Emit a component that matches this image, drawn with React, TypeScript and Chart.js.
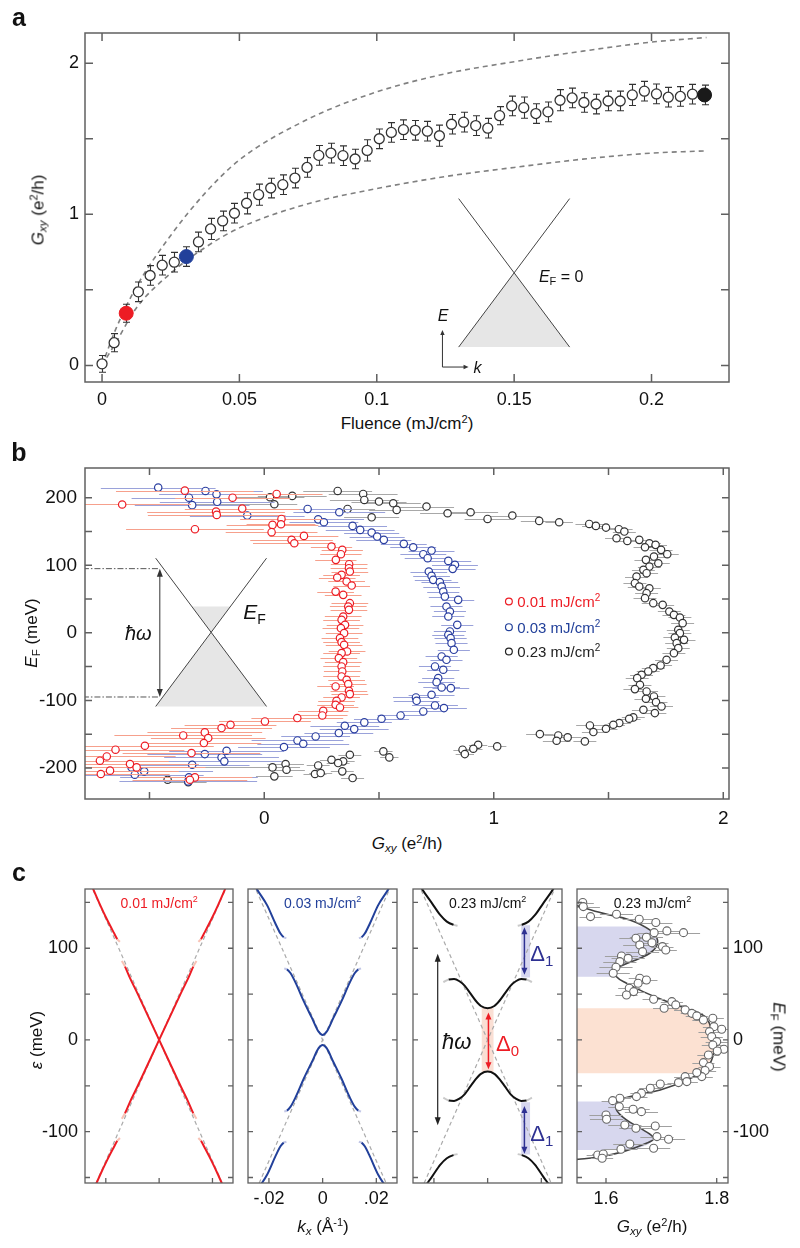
import React, { useEffect, useRef } from 'react';
import { Chart, registerables } from 'chart.js';

Chart.register(...registerables);

const FONT = '"Liberation Sans", Arial, Helvetica, sans-serif';
Chart.defaults.font.family = FONT;

const RED = '#ed1c24';
const BLUE = '#22409a';
const DARK = '#1a1a1a';
const BLUE_ANN = '#2e3192';

// ---------------- Panel a data ----------------
const FLUENCE = [0, 0.0044, 0.0088, 0.0132, 0.0175, 0.0219, 0.0263, 0.0307, 0.0351, 0.0395, 0.0439, 0.0482, 0.0526, 0.057, 0.0614, 0.0658, 0.0702, 0.0746, 0.0789, 0.0833, 0.0877, 0.0921, 0.0965, 0.1009, 0.1053, 0.1097, 0.114, 0.1184, 0.1228, 0.1272, 0.1316, 0.136, 0.1404, 0.1447, 0.1491, 0.1535, 0.1579, 0.1623, 0.1667, 0.1711, 0.1754, 0.1798, 0.1842, 0.1886, 0.193, 0.1974, 0.2018, 0.2061, 0.2105, 0.2149, 0.2193];
const GXY = [0.01, 0.15, 0.345, 0.487, 0.595, 0.663, 0.683, 0.72, 0.817, 0.903, 0.956, 1.007, 1.073, 1.13, 1.174, 1.196, 1.24, 1.31, 1.39, 1.405, 1.388, 1.366, 1.423, 1.5, 1.542, 1.56, 1.556, 1.55, 1.52, 1.596, 1.61, 1.587, 1.57, 1.653, 1.717, 1.706, 1.667, 1.678, 1.755, 1.77, 1.74, 1.73, 1.75, 1.75, 1.79, 1.815, 1.797, 1.775, 1.78, 1.795, 1.79];
const GXY_ERR = [0.055, 0.06, 0.06, 0.065, 0.065, 0.065, 0.065, 0.065, 0.065, 0.07, 0.065, 0.065, 0.07, 0.07, 0.065, 0.065, 0.065, 0.065, 0.065, 0.065, 0.065, 0.065, 0.07, 0.065, 0.065, 0.065, 0.065, 0.065, 0.07, 0.065, 0.065, 0.065, 0.065, 0.06, 0.065, 0.07, 0.065, 0.065, 0.07, 0.065, 0.065, 0.065, 0.065, 0.065, 0.07, 0.065, 0.065, 0.065, 0.065, 0.065, 0.065];
const HIGHLIGHT_IDX = [2, 7, 50];
const HIGHLIGHT_COLOR = [RED, BLUE, DARK];
const UPPER_BOUND = [[0, 0], [0.005, 0.24], [0.0125, 0.52], [0.025, 0.86], [0.0375, 1.14], [0.05, 1.36], [0.075, 1.63], [0.1, 1.81], [0.125, 1.93], [0.15, 2.01], [0.175, 2.08], [0.2, 2.14], [0.22, 2.17]];
const LOWER_BOUND = [[0, 0], [0.005, 0.15], [0.0125, 0.38], [0.025, 0.61], [0.0375, 0.78], [0.05, 0.91], [0.075, 1.07], [0.1, 1.17], [0.125, 1.25], [0.15, 1.31], [0.175, 1.365], [0.2, 1.405], [0.22, 1.42]];
const A_CONE_1 = [[0.1298, 1.104], [0.1702, 0.121]];
const A_CONE_2 = [[0.1702, 1.104], [0.1298, 0.121]];
const A_CONE_FILL = [[0.15, 0.6125], [0.1702, 0.121], [0.1298, 0.121], [0.15, 0.6125]];
const A_X_TICKS = [0, 0.05, 0.1, 0.15, 0.2];
const A_Y_TICKS = [0, 0.5, 1, 1.5, 2];
const A_Y_LABELS = [0, 1, 2];

// ---------------- Panel b data: [G, E, err(left), err(right)?] ----------------
const RED_B = [
  [-0.346, 210.5, 0.3], [-0.619, 190, 0.3], [-0.138, 200, 0.25], [0.054, 205.6, 0.2], [-0.096, 184, 0.25],
  [-0.21, 179.5, 0.3], [-0.207, 174.6, 0.3], [0.075, 168.6, 0.18], [0.036, 159.8, 0.2], [0.073, 160.7, 0.15],
  [-0.302, 153.4, 0.3], [0.032, 149, 0.2], [0.119, 137.6, 0.18], [0.131, 132.6, 0.18], [0.173, 143.5, 0.15],
  [0.293, 127.7, 0.09], [0.34, 122.8, 0.09], [0.334, 116.4, 0.09], [0.312, 108, 0.09], [0.37, 101.6, 0.08],
  [0.369, 95.7, 0.08], [0.373, 90.7, 0.08], [0.337, 85.8, 0.08], [0.318, 81.9, 0.08], [0.359, 76, 0.08],
  [0.381, 70, 0.08], [0.311, 61, 0.08], [0.344, 56.2, 0.08], [0.373, 43.9, 0.08], [0.366, 39, 0.08],
  [0.369, 34, 0.08], [0.344, 24.2, 0.08], [0.337, 19.2, 0.08], [0.352, 11.8, 0.08], [0.334, 6.9, 0.08],
  [0.348, -0.5, 0.08], [0.33, -7.9, 0.08], [0.337, -13.8, 0.08], [0.348, -17.8, 0.08], [0.361, -27.6, 0.08],
  [0.337, -30, 0.08], [0.325, -37.5, 0.08], [0.344, -43.4, 0.08], [0.337, -49.8, 0.08], [0.34, -57.2, 0.08],
  [0.337, -64.6, 0.08], [0.359, -69.5, 0.08], [0.366, -75.9, 0.08], [0.311, -79.4, 0.08], [0.369, -85.8, 0.08],
  [0.373, -90.7, 0.08], [0.337, -95.7, 0.08], [0.315, -100.6, 0.08], [0.311, -106.5, 0.08], [0.33, -110.5, 0.08],
  [0.257, -115.4, 0.11], [0.253, -122.3, 0.11], [0.144, -126.2, 0.2], [0.003, -131.2, 0.2], [-0.147, -136.1, 0.2],
  [-0.186, -141, 0.22], [-0.259, -147.4, 0.25], [-0.353, -151.9, 0.3], [-0.244, -155.8, 0.25], [-0.263, -163.2, 0.25],
  [-0.52, -167.2, 0.3], [-0.648, -173, 0.3], [-0.317, -178, 0.3], [-0.686, -183, 0.3], [-0.716, -189.3, 0.3],
  [-0.585, -194.3, 0.3], [-0.556, -199.2, 0.3], [-0.672, -204, 0.3], [-0.712, -209, 0.3], [-0.302, -214, 0.25],
  [-0.324, -217.5, 0.25],
];
const BLUE_B = [
  [-0.462, 215, 0.25], [-0.256, 210, 0.25], [-0.208, 205, 0.25], [-0.328, 200, 0.25], [-0.205, 194, 0.25],
  [-0.314, 189, 0.25], [-0.074, 173.6, 0.25], [0.189, 183.4, 0.2], [0.327, 178.5, 0.2], [0.235, 168, 0.2],
  [0.26, 163.7, 0.15], [0.385, 158.3, 0.15], [0.418, 152.4, 0.15], [0.468, 148.4, 0.12], [0.492, 142.5, 0.12],
  [0.521, 137.6, 0.12], [0.608, 131.7, 0.1], [0.649, 126.7, 0.1], [0.693, 116.4, 0.1], [0.712, 110.5, 0.1],
  [0.729, 121.8, 0.1], [0.802, 106.5, 0.1], [0.831, 100.6, 0.1], [0.821, 94.7, 0.1], [0.717, 90.7, 0.08],
  [0.729, 84.3, 0.08], [0.736, 78.4, 0.08], [0.765, 75, 0.08], [0.773, 68.5, 0.08], [0.78, 61.1, 0.07],
  [0.787, 53.7, 0.07], [0.845, 48.8, 0.07], [0.794, 39, 0.07], [0.809, 31.6, 0.07], [0.802, 24.2, 0.07],
  [0.841, 11.8, 0.07], [0.809, 2, 0.07], [0.802, -3, 0.07], [0.812, -7.9, 0.07], [0.816, -15.3, 0.07],
  [0.826, -25.1, 0.07], [0.773, -35, 0.07], [0.794, -39.9, 0.07], [0.744, -49.8, 0.07], [0.78, -54.7, 0.07],
  [0.758, -67.1, 0.07], [0.751, -73, 0.08], [0.773, -80.9, 0.08], [0.813, -81.9, 0.08], [0.729, -91.7, 0.1],
  [0.661, -95.7, 0.1], [0.664, -100.6, 0.1], [0.744, -107.5, 0.1], [0.783, -111.4, 0.1], [0.693, -116.4, 0.1],
  [0.594, -122.3, 0.1], [0.511, -127.2, 0.12], [0.436, -132.6, 0.12], [0.351, -137.6, 0.15], [0.392, -142.5, 0.15],
  [0.325, -148.4, 0.15], [0.224, -153.4, 0.15], [0.145, -159.3, 0.2], [0.17, -164.2, 0.2], [0.086, -169.1, 0.2],
  [-0.164, -174.6, 0.25], [-0.259, -179.5, 0.25], [-0.186, -184.4, 0.25], [-0.174, -190.3, 0.25], [-0.314, -195.3, 0.25],
  [-0.578, -199.2, 0.3], [-0.523, -205.1, 0.3], [-0.564, -210, 0.3], [-0.328, -214, 0.3], [-0.331, -220, 0.3],
];
const BLACK_B = [
  [0.025, 200.7, 0.15], [0.122, 202.7, 0.15], [0.044, 190.3, 0.85, 0.1], [0.32, 210, 0.15], [0.431, 205.6, 0.15],
  [0.436, 196.7, 0.15], [0.5, 194.3, 0.12], [0.562, 191.8, 0.12], [0.577, 182, 0.12], [0.363, 183.4, 0.12],
  [0.468, 171, 0.12], [0.707, 186.9, 0.12], [0.799, 177, 0.12], [0.899, 178.5, 0.12], [0.973, 168.6, 0.1],
  [1.081, 173.6, 0.12], [1.198, 165.7, 0.08], [1.285, 163.7, 0.06], [1.416, 161.2, 0.06], [1.445, 158.3, 0.06],
  [1.489, 155.8, 0.06], [1.545, 153.4, 0.06], [1.569, 149.9, 0.05], [1.535, 140, 0.05], [1.582, 136.1, 0.05],
  [1.634, 137.6, 0.05], [1.678, 132.6, 0.05], [1.659, 126.7, 0.05], [1.705, 130.2, 0.05], [1.729, 122.8, 0.05],
  [1.756, 116.4, 0.05], [1.698, 112.9, 0.05], [1.663, 108, 0.05], [1.717, 103, 0.05], [1.678, 98.1, 0.05],
  [1.652, 93.2, 0.05], [1.666, 88.3, 0.05], [1.622, 83.3, 0.05], [1.615, 73.5, 0.05], [1.634, 68.5, 0.05],
  [1.678, 66, 0.05], [1.666, 58.7, 0.05], [1.659, 51.3, 0.05], [1.695, 43.9, 0.05], [1.736, 41.4, 0.05],
  [1.765, 31.6, 0.05], [1.785, 26.6, 0.05], [1.811, 22.7, 0.05], [1.823, 14.3, 0.05], [1.804, 4.4, 0.05],
  [1.811, -0.5, 0.05], [1.789, -6.9, 0.05], [1.829, -10.4, 0.05], [1.797, -15.3, 0.05], [1.804, -22.7, 0.05],
  [1.785, -30.1, 0.05], [1.753, -39.9, 0.05], [1.727, -48.3, 0.05], [1.695, -52.3, 0.05], [1.673, -57.2, 0.05],
  [1.644, -62.1, 0.05], [1.625, -67.1, 0.05], [1.637, -76.9, 0.05], [1.615, -83.3, 0.05], [1.666, -86.8, 0.05],
  [1.698, -94.2, 0.05], [1.663, -97.6, 0.05], [1.707, -102.6, 0.05], [1.731, -109, 0.05], [1.652, -113.9, 0.05],
  [1.702, -118.8, 0.05], [1.608, -125.2, 0.05], [1.59, -127.2, 0.05], [1.547, -133.6, 0.05], [1.521, -136.1, 0.05],
  [1.419, -137.1, 0.06], [1.489, -142, 0.05], [1.434, -146.9, 0.05], [1.201, -149.9, 0.06], [1.281, -151.9, 0.06],
  [1.322, -154.8, 0.06], [1.274, -159.8, 0.06], [1.397, -160.7, 0.05], [0.932, -165.7, 0.04], [1.015, -168.1, 0.04],
  [0.911, -171.6, 0.04], [0.864, -173, 0.04], [0.874, -179.5, 0.04], [0.519, -175.5, 0.04], [0.545, -184.4, 0.04],
  [0.373, -180.5, 0.05], [0.293, -187.9, 0.05], [0.344, -190.3, 0.05], [0.322, -192.8, 0.05], [0.34, -205.1, 0.05],
  [0.385, -215, 0.05], [0.235, -196.3, 0.05], [0.221, -209, 0.05], [0.246, -207.6, 0.05], [0.093, -194.3, 0.08],
  [0.097, -202.7, 0.08], [0.036, -199.2, 0.85, 0.12], [0.044, -212.5, 0.08], [-0.421, -217.5, 0.08], [-0.331, -221, 0.08],
];
const B_CONE_1 = [[-0.473, 110.5], [0.01, -109]];
const B_CONE_2 = [[0.01, 110.5], [-0.473, -109]];
const B_CONE_FILL = [[-0.3157, 39], [-0.1473, 39], [-0.2315, 0.75], [0.01, -109], [-0.473, -109], [-0.2315, 0.75], [-0.3157, 39]];
const B_HW_TOP = [[-0.79, 95], [-0.459, 95]];
const B_HW_BOT = [[-0.79, -95], [-0.459, -95]];
const B_X_TICKS = [-0.5, 0, 0.5, 1, 1.5, 2];
const B_X_LABELS = [0, 1, 2];
const B_Y_TICKS = [-200, -150, -100, -50, 0, 50, 100, 150, 200];
const B_Y_LABELS = [-200, -100, 0, 100, 200];
const LEGEND_LABELS = ['0.01 mJ/cm', '0.03 mJ/cm', '0.23 mJ/cm'];
const LEGEND_E = [46.4, 8.4, -27.6];

// ---------------- Panel c data: [k, E, tipFade?] ----------------
const CONE_A = [[-0.03, -198], [0.03, 198]];
const CONE_B = [[-0.03, 198], [0.03, -198]];
const S1_UP_OUT = [[-0.03, 200], [-0.0248, 165], [-0.0221, 147], [-0.0195, 131], [-0.017, 117], [-0.0157, 110], [-0.0147, 107, 1], null, [0.0147, 107, 1], [0.0157, 110], [0.017, 117], [0.0195, 131], [0.0221, 147], [0.0248, 165], [0.03, 200]];
const S1_X_1 = [[-0.014, 86, 1], [-0.0128, 80], [-0.011, 68], [-0.008, 50], [0, 0], [0.008, -50], [0.011, -68], [0.0128, -80], [0.014, -86, 1]];
const S1_X_2 = [[-0.014, -86, 1], [-0.0128, -80], [-0.011, -68], [-0.008, -50], [0, 0], [0.008, 50], [0.011, 68], [0.0128, 80], [0.014, 86, 1]];
const S1_LO_OUT = [[-0.03, -200], [-0.0248, -165], [-0.0221, -147], [-0.0195, -131], [-0.017, -117], [-0.0157, -110], [-0.0147, -107, 1], null, [0.0147, -107, 1], [0.0157, -110], [0.017, -117], [0.0195, -131], [0.0221, -147], [0.0248, -165], [0.03, -200]];
const S2_UP_OUT = [[-0.03, 195], [-0.0246, 165], [-0.0207, 147], [-0.0176, 127], [-0.0157, 116], [-0.0145, 112], [-0.0135, 111, 1], null, [0.0135, 111, 1], [0.0145, 112], [0.0157, 116], [0.0176, 127], [0.0207, 147], [0.0246, 165], [0.03, 195]];
const S2_UP_IN = [[-0.0143, 78, 1], [-0.0133, 77], [-0.012, 73], [-0.01, 62], [-0.007, 42], [-0.004, 24], [-0.0015, 9], [0, 5.5], [0.0015, 9], [0.004, 24], [0.007, 42], [0.01, 62], [0.012, 73], [0.0133, 77], [0.0143, 78, 1]];
const S2_LO_IN = [[-0.0143, -78, 1], [-0.0133, -77], [-0.012, -73], [-0.01, -62], [-0.007, -42], [-0.004, -24], [-0.0015, -9], [0, -5.5], [0.0015, -9], [0.004, -24], [0.007, -42], [0.01, -62], [0.012, -73], [0.0133, -77], [0.0143, -78, 1]];
const S2_LO_OUT = [[-0.03, -195], [-0.0246, -165], [-0.0207, -147], [-0.0176, -127], [-0.0157, -116], [-0.0145, -112], [-0.0135, -111, 1], null, [0.0135, -111, 1], [0.0145, -112], [0.0157, -116], [0.0176, -127], [0.0207, -147], [0.0246, -165], [0.03, -195]];
const S3_TOP = [[-0.03, 195], [-0.0245, 165], [-0.0207, 149], [-0.0176, 136], [-0.0152, 129], [-0.0127, 125.5], [-0.0112, 124.5, 1], null, [0.0112, 124.5, 1], [0.0127, 125.5], [0.0152, 129], [0.0176, 136], [0.0207, 149], [0.0245, 165], [0.03, 195]];
const S3_MID_UP = [[-0.0165, 63, 1], [-0.0145, 66], [-0.0125, 66.5], [-0.0105, 64], [-0.0085, 59], [-0.0065, 51], [-0.0045, 43], [-0.0025, 37], [0, 34.5], [0.0025, 37], [0.0045, 43], [0.0065, 51], [0.0085, 59], [0.0105, 64], [0.0125, 66.5], [0.0145, 66], [0.0165, 63, 1]];
const S3_MID_LO = [[-0.0165, -63, 1], [-0.0145, -66], [-0.0125, -66.5], [-0.0105, -64], [-0.0085, -59], [-0.0065, -51], [-0.0045, -43], [-0.0025, -37], [0, -34.5], [0.0025, -37], [0.0045, -43], [0.0065, -51], [0.0085, -59], [0.0105, -64], [0.0125, -66.5], [0.0145, -66], [0.0165, -63, 1]];
const S3_BOT = [[-0.03, -195], [-0.0245, -165], [-0.0207, -149], [-0.0176, -136], [-0.0152, -129], [-0.0127, -125.5], [-0.0112, -124.5, 1], null, [0.0112, -124.5, 1], [0.0127, -125.5], [0.0152, -129], [0.0176, -136], [0.0207, -149], [0.0245, -165], [0.03, -195]];
const S3_GLOW_D1_UP = [[0.0125, 68], [0.0158, 68], [0.0158, 125], [0.0125, 125], [0.0125, 68]];
const S3_GLOW_D1_LO = [[0.0125, -125], [0.0158, -125], [0.0158, -68], [0.0125, -68], [0.0125, -125]];
const S3_GLOW_D0 = [[-0.0022, -35], [0.0022, -35], [0.0022, 35], [-0.0022, 35], [-0.0022, -35]];
const S4_PTS = [
  [1.558, 149.8, 0.02], [1.559, 145.4, 0.03], [1.572, 134.5, 0.02], [1.619, 137, 0.03], [1.66, 131.6, 0.03],
  [1.69, 128, 0.03], [1.71, 118.9, 0.03], [1.74, 117, 0.03], [1.687, 117, 0.03], [1.673, 112, 0.03],
  [1.654, 110.9, 0.03], [1.683, 106, 0.03], [1.661, 103.6, 0.03], [1.702, 101.8, 0.02], [1.708, 98.1, 0.02],
  [1.666, 96.3, 0.03], [1.628, 91.6, 0.03], [1.64, 89, 0.03], [1.625, 85.4, 0.03], [1.618, 79.2, 0.03],
  [1.613, 72.7, 0.03], [1.661, 67.2, 0.02], [1.673, 65.4, 0.02], [1.658, 61.8, 0.02], [1.642, 56.3, 0.02],
  [1.65, 52.7, 0.02], [1.637, 49, 0.02], [1.686, 44.3, 0.02], [1.705, 34.5, 0.02], [1.719, 41.8, 0.02],
  [1.726, 38.2, 0.02], [1.743, 32.7, 0.02], [1.755, 29, 0.02], [1.764, 26.2, 0.02], [1.776, 21.8, 0.02],
  [1.793, 23.6, 0.02], [1.795, 14.5, 0.02], [1.809, 11.6, 0.02], [1.787, 9.1, 0.02], [1.791, 3.6, 0.02],
  [1.8, -1.8, 0.02], [1.793, -5.5, 0.02], [1.813, -10.2, 0.02], [1.801, -12, 0.02], [1.785, -16.4, 0.02],
  [1.776, -24.7, 0.02], [1.787, -29, 0.02], [1.779, -33.4, 0.02], [1.773, -40, 0.02], [1.764, -35.6, 0.02],
  [1.743, -40, 0.02], [1.746, -45.4, 0.02], [1.731, -46.5, 0.02], [1.698, -48, 0.02], [1.68, -52.7, 0.02],
  [1.664, -58.2, 0.02], [1.655, -61.8, 0.02], [1.625, -63.6, 0.02], [1.612, -66.2, 0.02], [1.624, -72.7, 0.02],
  [1.649, -75.6, 0.03], [1.664, -78.2, 0.03], [1.6, -81.8, 0.03], [1.601, -86.5, 0.03], [1.634, -92.7, 0.03],
  [1.689, -93.8, 0.03], [1.654, -96.3, 0.03], [1.692, -105.4, 0.03], [1.713, -108.3, 0.03], [1.643, -113.4, 0.03],
  [1.686, -118.1, 0.03], [1.627, -119.2, 0.03], [1.585, -125.4, 0.02], [1.595, -124.3, 0.02], [1.593, -129, 0.02],
];
const S4_FIT = [[1.54, 148], [1.553, 145.4], [1.595, 138], [1.643, 130.9], [1.679, 120], [1.693, 109], [1.686, 98], [1.661, 89], [1.631, 81.8], [1.616, 76.3], [1.619, 69], [1.637, 61.8], [1.667, 52.7], [1.71, 41.8], [1.752, 32.7], [1.779, 25.4], [1.791, 10.9], [1.795, 0], [1.793, -18.2], [1.779, -32.7], [1.746, -43.6], [1.698, -54.5], [1.649, -61], [1.622, -67.2], [1.619, -76.3], [1.637, -87.2], [1.667, -98.1], [1.686, -107.2], [1.673, -112.7], [1.631, -121.8], [1.583, -128], [1.55, -130.1], [1.54, -130.5]];
const S4_SHADE_UP = [[1.54, 123.6], [1.667, 123.6], [1.683, 118], [1.693, 111], [1.692, 104], [1.684, 97], [1.665, 90], [1.64, 83.5], [1.622, 78], [1.616, 74], [1.618, 69], [1.54, 69], [1.54, 123.6]];
const S4_SHADE_MID = [[1.54, 34.5], [1.741, 34.5], [1.766, 29], [1.782, 22], [1.792, 12], [1.795, 0], [1.794, -12], [1.789, -22], [1.778, -32], [1.768, -36.3], [1.54, -36.3], [1.54, 34.5]];
const S4_SHADE_LO = [[1.54, -67.2], [1.622, -67.2], [1.618, -74], [1.621, -80], [1.637, -87.2], [1.667, -98.1], [1.684, -105], [1.686, -109], [1.676, -114], [1.655, -119], [1.641, -120], [1.54, -120], [1.54, -67.2]];
const C_E_TICKS = [-150, -100, -50, 0, 50, 100, 150];
const C_E_LABELS = [-100, 0, 100];
const C_K_TICKS = [-0.02, 0, 0.02];
const C_G_TICKS = [1.6, 1.8];
const C_TITLES = ['0.01 mJ/cm', '0.03 mJ/cm', '0.23 mJ/cm'];

// ---------------- helpers ----------------
const xy = (a: any[]) => a.map((p: any) => (p ? { x: p[0], y: p[1] } : { x: 0, y: null }));

function drawRich(ctx: any, segs: any[], px: number, py: number, size: number, color: string, align: string) {
  const small = Math.round(size * 0.66);
  const fonts = segs.map((s) => `${s.it ? 'italic ' : ''}${s.sub || s.sup ? small : size}px ${FONT}`);
  const widths = segs.map((s, i) => { ctx.font = fonts[i]; return ctx.measureText(s.t).width; });
  const total = widths.reduce((a: number, b: number) => a + b, 0);
  let x = align === 'left' ? px : align === 'right' ? px - total : px - total / 2;
  const base = py + size * 0.36;
  ctx.textAlign = 'left';
  ctx.textBaseline = 'alphabetic';
  segs.forEach((s, i) => {
    ctx.font = fonts[i];
    ctx.fillStyle = s.c || color;
    const dy = s.sub ? size * 0.22 : s.sup ? -size * 0.4 : 0;
    ctx.fillText(s.t, x, base + dy);
    x += widths[i];
  });
}

function drawArrow(ctx: any, x1: number, y1: number, x2: number, y2: number, color: string, lw: number, head: string, hl: number, hw: number) {
  const a = Math.atan2(y2 - y1, x2 - x1);
  ctx.strokeStyle = color;
  ctx.fillStyle = color;
  ctx.lineWidth = lw;
  ctx.beginPath();
  ctx.moveTo(x1 + (head === 'both' ? hl * 0.6 * Math.cos(a) : 0), y1 + (head === 'both' ? hl * 0.6 * Math.sin(a) : 0));
  ctx.lineTo(x2 - hl * 0.6 * Math.cos(a), y2 - hl * 0.6 * Math.sin(a));
  ctx.stroke();
  const tip = (x: number, y: number, an: number) => {
    ctx.beginPath();
    ctx.moveTo(x, y);
    ctx.lineTo(x - hl * Math.cos(an) + hw * Math.sin(an), y - hl * Math.sin(an) - hw * Math.cos(an));
    ctx.lineTo(x - hl * Math.cos(an) - hw * Math.sin(an), y - hl * Math.sin(an) + hw * Math.cos(an));
    ctx.closePath();
    ctx.fill();
  };
  tip(x2, y2, a);
  if (head === 'both') tip(x1, y1, a + Math.PI);
}

const errPlugin = {
  id: 'errbars',
  beforeDatasetDraw(chart: any, args: any) {
    const ds: any = chart.data.datasets[args.index];
    if (!ds.errs) return;
    const { ctx, chartArea: a } = chart;
    const xs = chart.scales.x;
    const ys = chart.scales.y;
    ctx.save();
    ctx.beginPath();
    ctx.rect(a.left, a.top, a.right - a.left, a.bottom - a.top);
    ctx.clip();
    ctx.strokeStyle = ds.errColor;
    ctx.lineWidth = ds.errWidth || 1;
    ctx.beginPath();
    ds.data.forEach((p: any, i: number) => {
      const e = ds.errs[i];
      if (!e || p.y === null) return;
      if (ds.errAxis === 'x') {
        const y = Math.round(ys.getPixelForValue(p.y)) + 0.5;
        ctx.moveTo(xs.getPixelForValue(p.x - e[0]), y);
        ctx.lineTo(xs.getPixelForValue(p.x + e[1]), y);
      } else {
        const x = Math.round(xs.getPixelForValue(p.x)) + 0.5;
        const y1 = ys.getPixelForValue(p.y - e[0]);
        const y2 = ys.getPixelForValue(p.y + e[1]);
        ctx.moveTo(x, y1); ctx.lineTo(x, y2);
        const c = ds.cap || 0;
        if (c) { ctx.moveTo(x - c, y1); ctx.lineTo(x + c, y1); ctx.moveTo(x - c, y2); ctx.lineTo(x + c, y2); }
      }
    });
    ctx.stroke();
    ctx.restore();
  },
};

function framePlugin(f: any) {
  return {
    id: 'frame',
    afterDatasetsDraw(chart: any) {
      const { ctx, chartArea: a } = chart;
      const xs = chart.scales.x;
      const ys = chart.scales.y;
      const L = f.len;
      ctx.save();
      ctx.strokeStyle = f.color;
      ctx.lineWidth = f.lw;
      ctx.beginPath();
      (f.top || []).forEach((v: number) => { const p = xs.getPixelForValue(v); ctx.moveTo(p, a.top); ctx.lineTo(p, a.top + L); });
      (f.bottom || []).forEach((v: number) => { const p = xs.getPixelForValue(v); ctx.moveTo(p, a.bottom); ctx.lineTo(p, a.bottom - L); });
      (f.left || []).forEach((v: number) => { const p = ys.getPixelForValue(v); ctx.moveTo(a.left, p); ctx.lineTo(a.left + L, p); });
      (f.right || []).forEach((v: number) => { const p = ys.getPixelForValue(v); ctx.moveTo(a.right, p); ctx.lineTo(a.right - L, p); });
      ctx.stroke();
      ctx.strokeRect(a.left, a.top, a.right - a.left, a.bottom - a.top);
      ctx.restore();
    },
  };
}

function notesPlugin(items: any[]) {
  return {
    id: 'notes',
    afterDatasetsDraw(chart: any) {
      const { ctx } = chart;
      const xs = chart.scales.x;
      const ys = chart.scales.y;
      ctx.save();
      for (const it of items) {
        if (it.type === 'text') {
          drawRich(ctx, it.segs, xs.getPixelForValue(it.x), ys.getPixelForValue(it.y), it.size, it.color || '#111', it.align || 'left');
        } else if (it.type === 'arrow') {
          drawArrow(ctx, xs.getPixelForValue(it.x1), ys.getPixelForValue(it.y1), xs.getPixelForValue(it.x2), ys.getPixelForValue(it.y2), it.color || '#222', it.lw || 1, it.head || 'end', it.hl || 7, it.hw || 3);
        } else if (it.type === 'circle') {
          ctx.beginPath();
          ctx.arc(xs.getPixelForValue(it.x), ys.getPixelForValue(it.y), it.r, 0, Math.PI * 2);
          ctx.strokeStyle = it.color;
          ctx.lineWidth = 1.2;
          ctx.stroke();
        }
      }
      ctx.restore();
    },
  };
}

function linAxis(s: any, isX: boolean) {
  return {
    type: 'linear',
    position: s.pos || (isX ? 'bottom' : 'left'),
    min: s.min,
    max: s.max,
    display: s.show !== false,
    grid: { display: false, drawTicks: false },
    border: { display: false },
    ticks: {
      display: (s.labels || []).length > 0,
      autoSkip: false,
      maxRotation: 0,
      minRotation: 0,
      padding: s.pad || 0,
      color: '#111',
      font: { family: FONT, size: s.font || 18 },
      callback: (v: number) => (s.fmt ? s.fmt(v) : String(v)),
    },
    afterBuildTicks: (sc: any) => { sc.ticks = (s.labels && s.labels.length ? s.labels : [s.min]).map((v: number) => ({ value: v })); },
    afterFit: (sc: any) => { if (isX) sc.height = s.size; else sc.width = s.size; },
  };
}

function makeConfig(p: any) {
  return {
    type: 'scatter',
    data: { datasets: p.datasets },
    options: {
      responsive: false,
      maintainAspectRatio: false,
      animation: false,
      devicePixelRatio: 1,
      events: [],
      layout: { padding: p.padding },
      plugins: { legend: { display: false }, tooltip: { enabled: false } },
      scales: { x: linAxis(p.x, true), y: linAxis(p.y, false) },
    },
    plugins: [errPlugin, framePlugin(p.frame), notesPlugin(p.notes || [])],
  };
}

const lineDs = (pts: any[], color: string, width: number, extra: any = {}) => ({
  data: xy(pts), showLine: true, borderColor: color, borderWidth: width, pointRadius: 0, fill: false, order: 4, ...extra,
});
const polyDs = (pts: any[], color: string, order = 9) => ({
  data: xy(pts), showLine: true, borderWidth: 0, borderColor: 'rgba(0,0,0,0)', backgroundColor: color, pointRadius: 0, fill: 'shape', order,
});
function bandDs(pts: any[], color: string, fade: string) {
  return {
    data: xy(pts), showLine: true, borderColor: color, borderWidth: 2, pointRadius: 0, fill: false, spanGaps: false,
    cubicInterpolationMode: 'monotone', order: 2,
    segment: {
      borderColor: (c: any) => {
        const a = pts[c.p0DataIndex];
        const b = pts[c.p1DataIndex];
        return (a && a[2]) || (b && b[2]) ? fade : undefined;
      },
    },
  };
}
const bPts = (arr: number[][], color: string, errColor: string, order: number) => ({
  data: arr.map((p) => ({ x: p[0], y: p[1] })),
  errs: arr.map((p) => [p[2], p[3] !== undefined ? p[3] : p[2]]),
  errAxis: 'x', errColor, errWidth: 1,
  pointRadius: 3.7, pointBorderWidth: 1.2, pointBorderColor: color, pointBackgroundColor: '#fff', order,
});
const dashed = (pts: any[]) => lineDs(pts, '#aaa', 1.2, { borderDash: [4, 3], order: 6 });
const titleSegs = (t: string) => [{ t }, { t: '2', sup: 1 }];

// ---------------- configs ----------------
function configA() {
  return makeConfig({
    padding: { top: 33, right: 71, left: 0, bottom: 0 },
    x: { min: -0.0062, max: 0.2282, labels: A_X_TICKS, size: 30, pad: 7, font: 18 },
    y: { min: -0.11, max: 2.2, labels: A_Y_LABELS, size: 85, pad: 6, font: 18 },
    frame: { color: '#606060', lw: 1.5, len: 8, top: A_X_TICKS, bottom: A_X_TICKS, left: A_Y_TICKS, right: A_Y_TICKS },
    datasets: [
      {
        data: HIGHLIGHT_IDX.map((i) => ({ x: FLUENCE[i], y: GXY[i] })),
        pointRadius: 7, pointBorderWidth: 1, pointBorderColor: HIGHLIGHT_COLOR, pointBackgroundColor: HIGHLIGHT_COLOR, order: 0,
      },
      {
        data: FLUENCE.map((x, i) => ({ x, y: GXY[i] })),
        errs: GXY_ERR.map((e) => [e, e]), errAxis: 'y', errColor: '#333', errWidth: 1.1, cap: 3.5,
        pointRadius: 5, pointBorderWidth: 1.3, pointBorderColor: '#333', pointBackgroundColor: '#fff', order: 1,
      },
      lineDs(UPPER_BOUND, '#808080', 1.6, { borderDash: [5, 4], cubicInterpolationMode: 'monotone', order: 3 }),
      lineDs(LOWER_BOUND, '#808080', 1.6, { borderDash: [5, 4], cubicInterpolationMode: 'monotone', order: 3 }),
      lineDs(A_CONE_1, '#444', 1),
      lineDs(A_CONE_2, '#444', 1),
      polyDs(A_CONE_FILL, '#e6e6e6'),
    ],
    notes: [
      { type: 'text', x: 0.159, y: 0.592, size: 16, segs: [{ t: 'E', it: 1 }, { t: 'F', sub: 1 }, { t: ' = 0' }] },
      { type: 'text', x: 0.1241, y: 0.33, size: 16, align: 'center', segs: [{ t: 'E', it: 1 }] },
      { type: 'text', x: 0.1352, y: -0.011, size: 16, segs: [{ t: 'k', it: 1 }] },
      { type: 'arrow', x1: 0.1239, y1: -0.011, x2: 0.1239, y2: 0.235, head: 'end', color: '#333', lw: 1, hl: 5, hw: 2.2 },
      { type: 'arrow', x1: 0.1239, y1: -0.011, x2: 0.1334, y2: -0.011, head: 'end', color: '#333', lw: 1, hl: 5, hw: 2.2 },
    ],
  });
}

function configB() {
  const legend: any[] = [];
  const cols = [RED, BLUE, '#222'];
  LEGEND_LABELS.forEach((t, i) => {
    legend.push({ type: 'circle', x: 1.066, y: LEGEND_E[i], r: 3.4, color: cols[i] });
    legend.push({ type: 'text', x: 1.102, y: LEGEND_E[i], size: 15, color: cols[i], segs: titleSegs(t) });
  });
  return makeConfig({
    padding: { top: 28, right: 71, left: 0, bottom: 0 },
    x: { min: -0.781, max: 2.025, labels: B_X_LABELS, size: 33, pad: 8, font: 19 },
    y: { min: -246, max: 244, labels: B_Y_LABELS, size: 85, pad: 8, font: 19 },
    frame: { color: '#606060', lw: 1.5, len: 7, top: B_X_TICKS, bottom: B_X_TICKS, left: B_Y_TICKS, right: B_Y_TICKS },
    datasets: [
      bPts(RED_B, RED, '#f6a08c', 0),
      bPts(BLUE_B, '#2a3ea0', '#9aa2da', 1),
      bPts(BLACK_B, '#333', '#a8a8a8', 2),
      lineDs(B_CONE_1, '#444', 1, { order: 5 }),
      lineDs(B_CONE_2, '#444', 1, { order: 5 }),
      lineDs(B_HW_TOP, '#555', 1, { borderDash: [6, 2, 1.5, 2], order: 5 }),
      lineDs(B_HW_BOT, '#555', 1, { borderDash: [6, 2, 1.5, 2], order: 5 }),
      polyDs(B_CONE_FILL, '#e6e6e6'),
    ],
    notes: [
      { type: 'arrow', x1: -0.455, y1: 95, x2: -0.455, y2: -95, head: 'both', color: '#333', lw: 1, hl: 8, hw: 3 },
      { type: 'text', x: -0.607, y: 0, size: 20, segs: [{ t: 'ħω', it: 1 }] },
      { type: 'text', x: -0.0915, y: 31.5, size: 21, segs: [{ t: 'E', it: 1 }, { t: 'F', sub: 1 }] },
      ...legend,
    ],
  });
}

const cY = { min: -156, max: 164.6 };
const cK = { min: -0.0278, max: 0.0277 };
const cFrame = (bottom: number[]) => ({ color: '#606060', lw: 1.3, len: 5, bottom, left: C_E_TICKS, right: C_E_TICKS });

function configS1() {
  return makeConfig({
    padding: { top: 19, right: 12, left: 0, bottom: 0 },
    x: { ...cK, labels: [], size: 37 },
    y: { ...cY, labels: C_E_LABELS, size: 85, pad: 7, font: 18 },
    frame: cFrame(C_K_TICKS),
    datasets: [
      bandDs(S1_UP_OUT, RED, 'rgba(240,120,90,0.45)'),
      bandDs(S1_X_1, RED, 'rgba(240,120,90,0.45)'),
      bandDs(S1_X_2, RED, 'rgba(240,120,90,0.45)'),
      bandDs(S1_LO_OUT, RED, 'rgba(240,120,90,0.45)'),
      dashed(CONE_A),
      dashed(CONE_B),
    ],
    notes: [{ type: 'text', x: 0, y: 149.4, size: 14, align: 'center', color: RED, segs: titleSegs(C_TITLES[0]) }],
  });
}

function configS2() {
  return makeConfig({
    padding: { top: 19, right: 8, left: 8, bottom: 0 },
    x: { ...cK, labels: C_K_TICKS, size: 37, pad: 5, font: 18, fmt: (v: number) => (v === 0 ? '0' : (v < 0 ? '-' : '') + '.02') },
    y: { ...cY, show: false, labels: [], size: 0 },
    frame: cFrame(C_K_TICKS),
    datasets: [
      bandDs(S2_UP_OUT, BLUE, 'rgba(120,130,200,0.45)'),
      bandDs(S2_UP_IN, BLUE, 'rgba(120,130,200,0.45)'),
      bandDs(S2_LO_IN, BLUE, 'rgba(120,130,200,0.45)'),
      bandDs(S2_LO_OUT, BLUE, 'rgba(120,130,200,0.45)'),
      dashed(CONE_A),
      dashed(CONE_B),
    ],
    notes: [{ type: 'text', x: 0, y: 149.4, size: 14, align: 'center', color: BLUE, segs: titleSegs(C_TITLES[1]) }],
  });
}

function configS3() {
  return makeConfig({
    padding: { top: 19, right: 8, left: 8, bottom: 0 },
    x: { ...cK, labels: [], size: 37 },
    y: { ...cY, show: false, labels: [], size: 0 },
    frame: cFrame(C_K_TICKS),
    datasets: [
      bandDs(S3_TOP, '#111', 'rgba(120,120,120,0.4)'),
      bandDs(S3_MID_UP, '#111', 'rgba(120,120,120,0.4)'),
      bandDs(S3_MID_LO, '#111', 'rgba(120,120,120,0.4)'),
      bandDs(S3_BOT, '#111', 'rgba(120,120,120,0.4)'),
      dashed(CONE_A),
      dashed(CONE_B),
      polyDs(S3_GLOW_D1_UP, 'rgba(165,165,220,0.45)'),
      polyDs(S3_GLOW_D1_LO, 'rgba(165,165,220,0.45)'),
      polyDs(S3_GLOW_D0, 'rgba(245,185,160,0.45)'),
    ],
    notes: [
      { type: 'text', x: 0, y: 149.4, size: 14, align: 'center', color: '#111', segs: titleSegs(C_TITLES[2]) },
      { type: 'arrow', x1: 0.0137, y1: 123, x2: 0.0137, y2: 71, head: 'both', color: BLUE_ANN, lw: 1.5, hl: 7, hw: 3 },
      { type: 'arrow', x1: 0.0137, y1: -72, x2: 0.0137, y2: -124, head: 'both', color: BLUE_ANN, lw: 1.5, hl: 7, hw: 3 },
      { type: 'arrow', x1: 0.0003, y1: 30, x2: 0.0003, y2: -32, head: 'both', color: RED, lw: 1.5, hl: 7, hw: 3 },
      { type: 'arrow', x1: -0.0186, y1: 94, x2: -0.0186, y2: -93, head: 'both', color: '#222', lw: 1.2, hl: 8, hw: 3 },
      { type: 'text', x: 0.0159, y: 94.5, size: 22, color: BLUE_ANN, segs: [{ t: 'Δ' }, { t: '1', sub: 1 }] },
      { type: 'text', x: 0.0159, y: -101.8, size: 22, color: BLUE_ANN, segs: [{ t: 'Δ' }, { t: '1', sub: 1 }] },
      { type: 'text', x: 0.0031, y: -3.6, size: 22, color: RED, segs: [{ t: 'Δ' }, { t: '0', sub: 1 }] },
      { type: 'text', x: -0.017, y: -1, size: 22, color: '#111', segs: [{ t: 'ħω', it: 1 }] },
    ],
  });
}

function configS4() {
  return makeConfig({
    padding: { top: 19, right: 0, left: 7, bottom: 0 },
    x: { min: 1.5476, max: 1.8204, labels: C_G_TICKS, size: 37, pad: 5, font: 18, fmt: (v: number) => v.toFixed(1) },
    y: { ...cY, labels: C_E_LABELS, size: 72, pad: 5, font: 18, pos: 'right' },
    frame: cFrame(C_G_TICKS),
    datasets: [
      {
        data: S4_PTS.map((p) => ({ x: p[0], y: p[1] })),
        errs: S4_PTS.map((p) => [p[2], p[2]]), errAxis: 'x', errColor: '#a0a0a0', errWidth: 1,
        pointRadius: 4, pointBorderWidth: 1.1, pointBorderColor: '#666', pointBackgroundColor: '#fff', order: 0,
      },
      lineDs(S4_FIT, '#444', 1.6, { tension: 0.4, order: 1 }),
      polyDs(S4_SHADE_UP, 'rgba(190,190,228,0.62)'),
      polyDs(S4_SHADE_MID, 'rgba(250,205,180,0.6)'),
      polyDs(S4_SHADE_LO, 'rgba(190,190,228,0.62)'),
    ],
    notes: [{ type: 'text', x: 1.684, y: 149.4, size: 14, align: 'center', color: '#111', segs: titleSegs(C_TITLES[2]) }],
  });
}

// ---------------- components ----------------
function ChartBox({ left, top, width, height, make }: any) {
  const ref = useRef<HTMLCanvasElement>(null);
  useEffect(() => {
    const chart = new Chart(ref.current as HTMLCanvasElement, make() as any);
    return () => chart.destroy();
  }, []);
  return <canvas ref={ref} width={width} height={height} style={{ position: 'absolute', left, top, width, height }} />;
}

const subS: any = { fontSize: '0.68em', verticalAlign: '-0.28em', lineHeight: 0 };
const supS: any = { fontSize: '0.65em', verticalAlign: '0.5em', lineHeight: 0 };

function T({ x, y, size = 17, rot = 0, bold = false, children }: any) {
  return (
    <div style={{ position: 'absolute', left: x, top: y, transform: `translate(-50%, -50%) rotate(${rot}deg)`, fontFamily: FONT, fontSize: size, fontWeight: bold ? 'bold' : 'normal', whiteSpace: 'nowrap', lineHeight: 1, color: '#111' }}>
      {children}
    </div>
  );
}

const Gxy = () => (<><i>G</i><sub style={subS}><i>xy</i></sub> (e<sup style={supS}>2</sup>/h)</>);
const EF = () => (<><i>E</i><sub style={subS}>F</sub> (meV)</>);

export default function App() {
  return (
    <div style={{ position: 'absolute', left: 0, top: 0, width: 800, height: 1248, background: '#fff', overflow: 'hidden' }}>
      <ChartBox left={0} top={0} width={800} height={412} make={configA} />
      <ChartBox left={0} top={440} width={800} height={392} make={configB} />
      <ChartBox left={0} top={870} width={245} height={350} make={configS1} />
      <ChartBox left={240} top={870} width={165} height={350} make={configS2} />
      <ChartBox left={405} top={870} width={165} height={350} make={configS3} />
      <ChartBox left={570} top={870} width={230} height={350} make={configS4} />

      <T x={19} y={17} size={25} bold>a</T>
      <T x={19} y={452} size={25} bold>b</T>
      <T x={19} y={872} size={25} bold>c</T>

      <T x={38} y={210} rot={-90}><Gxy /></T>
      <T x={407} y={423}>Fluence (mJ/cm<sup style={supS}>2</sup>)</T>

      <T x={31} y={633} rot={-90}><EF /></T>
      <T x={407} y={843}><Gxy /></T>

      <T x={36} y={1040} rot={-90}><i>ε</i> (meV)</T>
      <T x={323} y={1226}><i>k</i><sub style={subS}><i>x</i></sub> (Å<sup style={supS}>-1</sup>)</T>
      <T x={652} y={1226}><Gxy /></T>
      <T x={779} y={1037} rot={90}><EF /></T>
    </div>
  );
}
